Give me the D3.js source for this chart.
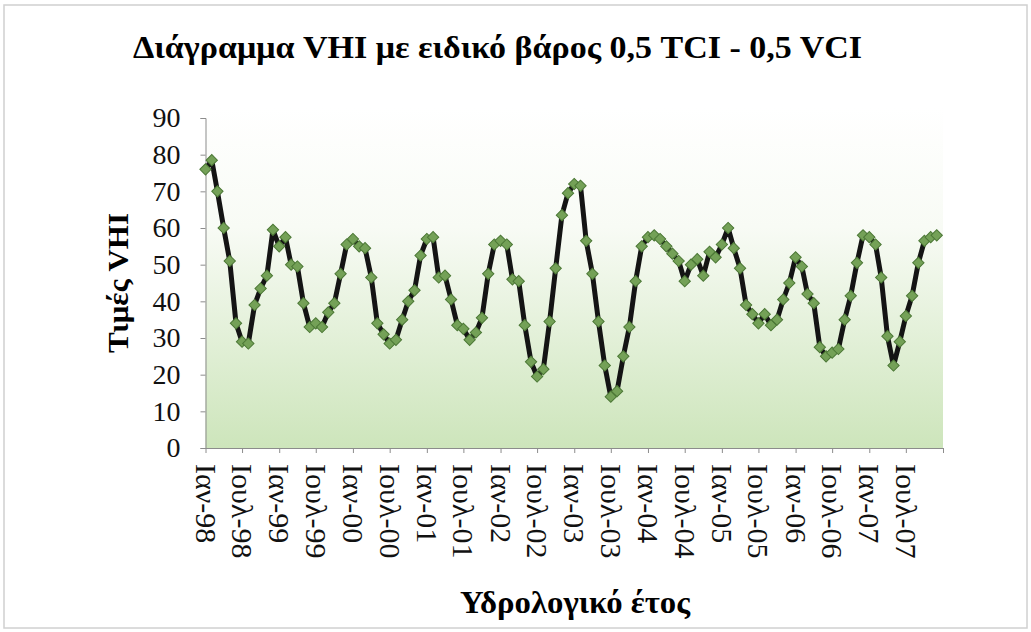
<!DOCTYPE html>
<html>
<head>
<meta charset="utf-8">
<script src="https://cdn.jsdelivr.net/npm/d3@7"></script>
<style>
  body { margin: 0; background: #fff; }
  svg { display: block; }
</style>
</head>
<body>
<script>
// monthly VHI values (0,5 TCI - 0,5 VCI), Jan to Dec of each year
const vhi1998 = [76, 78.5, 70, 60, 51, 34, 29, 28.5, 39, 43.5, 47, 59.5]
const vhi1999 = [55, 57.5, 50, 49.5, 39.5, 33, 34, 33, 37, 39.5, 47.5, 55.5]
const vhi2000 = [57, 55, 54.5, 46.5, 34, 31, 28.5, 29.5, 35, 40, 43, 52.5]
const vhi2001 = [57, 57.5, 46.5, 47, 40.5, 33.5, 32.5, 29.5, 31.5, 35.5, 47.5, 55.5]
const vhi2002 = [56.5, 55.5, 46, 45.5, 33.5, 23.5, 19.5, 21.5, 34.5, 49, 63.5, 69.5]
const vhi2003 = [72, 71.5, 56.5, 47.5, 34.5, 22.5, 14, 15.5, 25, 33, 45.5, 55]
const vhi2004 = [57.5, 58, 57, 55, 53, 51, 45.5, 50, 51.5, 47, 53.5, 52]
const vhi2005 = [55.5, 60, 54.5, 49, 39, 36.5, 34, 36.5, 33.5, 35, 40.5, 45]
const vhi2006 = [52, 49.5, 42, 39.5, 27.5, 25, 26, 27, 35, 41.5, 50.5, 58]
const vhi2007 = [57.5, 55.5, 46.5, 30.5, 22.5, 29, 36, 41.5, 50.5, 56.5, 57.5, 58]

const tickLabels = ["Ιαν-98", "Ιουλ-98", "Ιαν-99", "Ιουλ-99", "Ιαν-00", "Ιουλ-00",
  "Ιαν-01", "Ιουλ-01", "Ιαν-02", "Ιουλ-02", "Ιαν-03", "Ιουλ-03", "Ιαν-04", "Ιουλ-04",
  "Ιαν-05", "Ιουλ-05", "Ιαν-06", "Ιουλ-06", "Ιαν-07", "Ιουλ-07", ""]
const yTicks = [0, 10, 20, 30, 40, 50, 60, 70, 80, 90]

const title = "Διάγραμμα VHI με ειδικό βάρος 0,5 TCI - 0,5 VCI"
const yTitle = "Τιμές VHI"
const xTitle = "Υδρολογικό έτος"

const width = 1031, height = 632
const margin = {top: 118, right: 88, bottom: 184, left: 205.5}

const start = new Date(1998, 0, 1)
const values = [].concat(vhi1998, vhi1999, vhi2000, vhi2001, vhi2002,
  vhi2003, vhi2004, vhi2005, vhi2006, vhi2007)
const data = values.map((v, i) => ({date: d3.timeMonth.offset(start, i), value: v}))

const x = d3.scaleTime()
  .domain([start, d3.timeMonth.offset(start, 120)])
  .range([margin.left, width - margin.right])

const y = d3.scaleLinear()
  .domain([0, 90])
  .range([height - margin.bottom, margin.top])

const svg = d3.select("body").append("svg")
  .attr("width", width)
  .attr("height", height)
  .attr("viewBox", [0, 0, width, height])
  .style("font-family", "'Liberation Serif', 'Times New Roman', serif")

// faint frame around the chart
svg.append("rect")
  .attr("x", 4).attr("y", 5)
  .attr("width", width - 8).attr("height", height - 9)
  .attr("fill", "none")
  .attr("stroke", "#d0d0d0")
  .attr("stroke-width", 1.5)

const grad = svg.append("defs").append("linearGradient")
  .attr("id", "plotbg")
  .attr("x1", 0).attr("y1", 0).attr("x2", 0).attr("y2", 1)
grad.append("stop").attr("offset", "0%").attr("stop-color", "#ffffff")
grad.append("stop").attr("offset", "35%").attr("stop-color", "#f8fbf5")
grad.append("stop").attr("offset", "100%").attr("stop-color", "#cde5bb")

svg.append("rect")
  .attr("x", margin.left)
  .attr("y", y(90) - 10)
  .attr("width", width - margin.right - margin.left)
  .attr("height", y(0) - y(90) + 10)
  .attr("fill", "url(#plotbg)")

// title (the original face is narrow and tall, so stretch it to the same width)
svg.append("text")
  .attr("x", 133)
  .attr("y", 58)
  .attr("font-size", 31)
  .attr("font-weight", "bold")
  .attr("textLength", 729)
  .attr("lengthAdjust", "spacingAndGlyphs")
  .text(title)

// y axis
const yAxis = g => g
  .attr("transform", `translate(${margin.left},0)`)
  .call(d3.axisLeft(y).tickValues(yTicks).tickSize(5).tickPadding(20))
  .call(g => g.selectAll("line, path").attr("stroke", "#8c8c8c"))
  .call(g => g.selectAll("text")
    .attr("font-size", 28)
    .attr("fill", "#111")
    .attr("font-family", "'Liberation Serif', serif"))

// x axis, tick every six months, labels turned to read downwards
const xAxis = g => g
  .attr("transform", `translate(0,${height - margin.bottom})`)
  .call(d3.axisBottom(x)
    .tickValues(d3.timeMonth.range(start, d3.timeMonth.offset(start, 121), 6))
    .tickFormat((d, i) => tickLabels[i])
    .tickSize(5)
    .tickSizeOuter(0))
  .call(g => g.selectAll("line, path").attr("stroke", "#8c8c8c"))
  .call(g => g.selectAll("text")
    .attr("transform", "rotate(90)")
    .attr("text-anchor", "start")
    .attr("x", 16)
    .attr("y", 0)
    .attr("dy", "0.35em")
    .attr("font-size", 30)
    .attr("fill", "#111")
    .attr("font-family", "'Liberation Serif', serif"))

svg.append("g").call(yAxis)
svg.append("g").call(xAxis)

// axis titles
svg.append("text")
  .attr("transform", `translate(128,${(y(0) + y(90)) / 2}) rotate(-90)`)
  .attr("text-anchor", "middle")
  .attr("font-size", 29)
  .attr("font-weight", "bold")
  .attr("textLength", 140)
  .attr("lengthAdjust", "spacingAndGlyphs")
  .text(yTitle)

svg.append("text")
  .attr("x", 575)
  .attr("y", 613)
  .attr("text-anchor", "middle")
  .attr("font-size", 31)
  .attr("font-weight", "bold")
  .attr("textLength", 230)
  .attr("lengthAdjust", "spacingAndGlyphs")
  .text(xTitle)

// series
const line = d3.line()
  .x(d => x(d.date))
  .y(d => y(d.value))

svg.append("path")
  .datum(data)
  .attr("fill", "none")
  .attr("stroke", "#141414")
  .attr("stroke-width", 5)
  .attr("stroke-linejoin", "round")
  .attr("d", line)

svg.append("g")
  .selectAll("path")
  .data(data)
  .join("path")
  .attr("transform", d => `translate(${x(d.date)},${y(d.value)}) rotate(45)`)
  .attr("d", d3.symbol(d3.symbolSquare, 64))
  .attr("fill", "#74a157")
  .attr("stroke", "#4c7836")
  .attr("stroke-width", 1)
</script>
</body>
</html>
